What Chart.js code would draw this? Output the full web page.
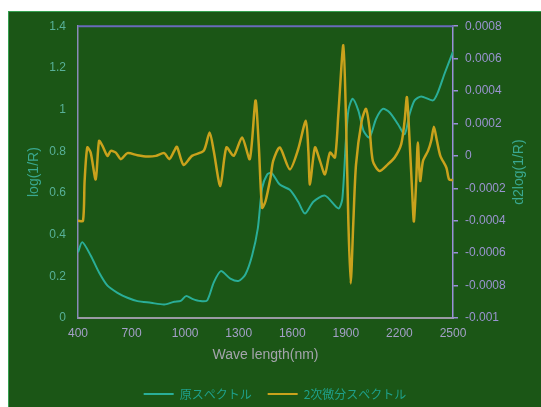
<!DOCTYPE html>
<html>
<head>
<meta charset="utf-8">
<script src="https://cdn.jsdelivr.net/npm/chart.js@4/dist/chart.umd.min.js"></script>
<style>
html, body { margin:0; padding:0; background:#fff; overflow:hidden; }
#frame { position:absolute; left:8px; top:11px; width:532px; height:398px; background:#1b5616; border:1px solid #35a050; overflow:hidden; }
canvas { display:block; margin-top:-5px; }
</style>
</head>
<body>
<div id="frame"><canvas id="chart" width="532" height="403"></canvas></div>
<script>
// ===== Data =====
const X_TICKS  = [400, 700, 1000, 1300, 1600, 1900, 2200, 2500];
const Y_TICKS  = [0, 0.2, 0.4, 0.6, 0.8, 1, 1.2, 1.4];
const Y2_TICKS = [-0.001, -0.0008, -0.0006, -0.0004, -0.0002, 0, 0.0002, 0.0004, 0.0006, 0.0008];

// original spectrum, log(1/R)
const origWl  = [400, 424, 471, 518, 565, 621, 677, 733, 808, 883, 939, 975, 1005, 1040, 1085, 1123,
                 1160, 1200, 1253, 1300, 1338, 1375, 1407, 1431, 1459, 1484, 1530, 1586, 1633, 1671,
                 1718, 1783, 1858, 1880, 1900, 1915, 1938, 1970, 1999, 2032, 2069, 2107, 2144, 2191,
                 2229, 2257, 2285, 2322, 2388, 2416, 2453, 2500];
const origVal = [0.315, 0.364, 0.30, 0.218, 0.155, 0.121, 0.097, 0.081, 0.073, 0.065, 0.078, 0.082, 0.105, 0.092, 0.081, 0.084,
                 0.17, 0.225, 0.189, 0.178, 0.21, 0.30, 0.43, 0.623, 0.688, 0.696, 0.64, 0.615, 0.558, 0.501,
                 0.558, 0.587, 0.526, 0.57, 0.85, 1.0, 1.052, 0.995, 0.898, 0.866, 0.955, 1.003, 0.987, 0.931,
                 0.882, 0.979, 1.044, 1.063, 1.044, 1.084, 1.173, 1.278];

// second derivative, d2log(1/R)
const derivWl  = [400, 428, 437, 452, 471, 499, 518, 537, 565, 584, 612, 640, 677, 733, 789, 836, 883, 911, 939,
                  954, 991, 1038, 1104, 1137, 1160, 1197, 1231, 1272, 1319, 1362, 1394, 1412, 1431, 1450, 1478,
                  1493, 1530, 1586, 1633, 1676, 1690, 1699, 1727, 1755, 1783, 1811, 1839, 1858, 1886, 1901,
                  1914, 1927, 1942, 1957, 1989, 2013, 2032, 2051, 2088, 2135, 2173, 2210, 2229, 2242, 2257,
                  2272, 2281, 2294, 2303, 2316, 2332, 2360, 2378, 2393, 2410, 2429, 2463, 2478, 2500];
const derivVal = [-0.0004, -0.0004, -0.000155, 0.000052, 0.00002, -0.000145, 0.000093, 0.000062, 0, 0.000031, 0.00002, -0.00002, 0.000017, 0.000004, -0.000004, 0, 0.000017, -0.00002, 0.000031,
                  0.000056, -0.000056, 0, 0.000031, 0.000145, 0.000031, -0.000186, 0.000052, 0, 0.000114, -0.00002, 0.000342, 0.000073, -0.00032, -0.00028, -0.000135,
                  -0.000031, 0.000052, -0.000083, 0.000041, 0.000217, 0.000031, -0.000176, 0.000052, -0.000031, -0.000114, 0.00002, -0.00001, 0.000259, 0.000683, 0.000217,
                  -0.000404, -0.000787, -0.000404, -0.000052, 0.000217, 0.00029, 0.000176, -0.000031, -0.000093, -0.000052, -0.00001, 0.000073, 0.000217, 0.000362, 0.000093,
                  -0.000238, -0.000404, -0.000155, 0.000083, -0.000155, -0.000031, 0.000031, 0.000093, 0.00018, 0.000093, 0, -0.000073, -0.000145, -0.00015];

const TEAL = '#2aae98';
const GOLD = '#c9a21c';

const pairs = (xs, ys) => xs.map((x, i) => ({ x, y: ys[i] }));
const fixTicks = (arr) => (s) => { s.ticks = arr.map(v => ({ value: v })); };
const fmt = (v) => String(Number(v.toFixed(4)));

// top frame line + right-hand title (reads bottom to top like the left one)
const frameExtras = {
  id: 'frameExtras',
  afterDraw(chart) {
    const { ctx, chartArea: a } = chart;
    ctx.save();
    ctx.strokeStyle = '#6a6abc'; ctx.lineWidth = 2;
    ctx.beginPath(); ctx.moveTo(a.left, a.top); ctx.lineTo(a.right, a.top); ctx.stroke();
    ctx.fillStyle = '#3aa890';
    ctx.font = '14px "Liberation Sans"';
    ctx.translate(510, (a.top + a.bottom) / 2);
    ctx.rotate(-Math.PI / 2);
    ctx.textAlign = 'center'; ctx.textBaseline = 'middle';
    ctx.fillText('d2log(1/R)', 0, 0);
    ctx.restore();
  }
};

new Chart(document.getElementById('chart'), {
  type: 'line',
  data: {
    datasets: [
      { label: '原スペクトル', data: pairs(origWl, origVal), yAxisID: 'y',
        borderColor: TEAL, backgroundColor: TEAL, borderWidth: 2, order: 1 },
      { label: '2次微分スペクトル', data: pairs(derivWl, derivVal), yAxisID: 'y2',
        borderColor: GOLD, backgroundColor: GOLD, borderWidth: 2.5, order: 0 }
    ]
  },
  options: {
    responsive: false,
    animation: false,
    elements: { point: { radius: 0 }, line: { tension: 0.25 } },
    layout: { padding: { top: 15, left: 0, right: 0, bottom: 0 } },
    plugins: {
      tooltip: { enabled: false },
      legend: {
        position: 'bottom',
        labels: {
          boxWidth: 30, boxHeight: 2, padding: 16, color: '#1fa08a',
          font: { size: 12, family: '"Noto Sans CJK JP"' },
          sort: (a, b) => a.datasetIndex - b.datasetIndex,
          generateLabels: (c) => Chart.defaults.plugins.legend.labels.generateLabels(c)
            .map(l => ({ ...l, lineWidth: 0 }))
        }
      }
    },
    scales: {
      x: {
        type: 'linear', position: 'bottom', min: 400, max: 2500,
        afterBuildTicks: fixTicks(X_TICKS),
        afterFit: (s) => { s.height = 54; },
        grid: { display: false, drawTicks: false },
        border: { color: '#9a9aa4', width: 2 },
        ticks: { color: '#a4a0c8', padding: 8, maxRotation: 0, autoSkip: false, callback: (v) => String(v),
                 font: { size: 12, family: '"Liberation Sans"' } },
        title: { display: true, text: 'Wave length(nm)', color: '#a4a4ac',
                 padding: { top: 0, bottom: 8 }, font: { size: 14, family: '"Liberation Sans"' } }
      },
      y: {
        position: 'left', min: 0, max: 1.4,
        afterBuildTicks: fixTicks(Y_TICKS),
        afterFit: (s) => { s.width = 69; },
        grid: { display: false, drawTicks: false },
        border: { color: '#8a8ab8', width: 1.5 },
        ticks: { color: '#58b098', padding: 12, callback: fmt,
                 font: { size: 12, family: '"Liberation Sans"' } },
        title: { display: true, text: 'log(1/R)', color: '#3aa890',
                 padding: { top: 17, bottom: 0 }, font: { size: 14, family: '"Liberation Sans"' } }
      },
      y2: {
        position: 'right', min: -0.001, max: 0.0008,
        afterBuildTicks: fixTicks(Y2_TICKS),
        afterFit: (s) => { s.width = 88; },
        grid: { drawOnChartArea: false, drawTicks: true, tickLength: 5, color: '#9a90d8', lineWidth: 1.5 },
        border: { color: '#9a90d8', width: 1.5 },
        ticks: { color: '#9a94d0', padding: 7, callback: fmt,
                 font: { size: 12, family: '"Liberation Sans"' } }
      }
    }
  },
  plugins: [frameExtras]
});
</script>
</body>
</html>
